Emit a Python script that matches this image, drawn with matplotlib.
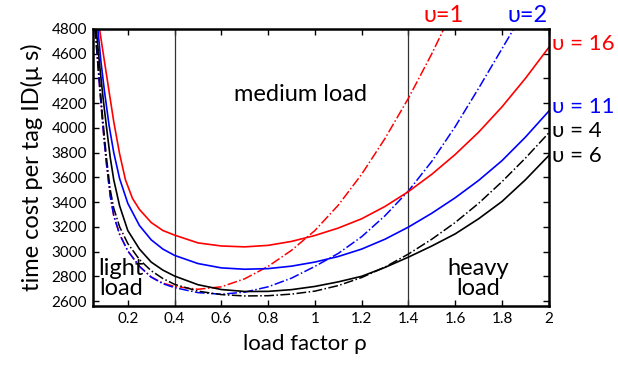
import matplotlib
matplotlib.use('Agg')
import matplotlib.pyplot as plt

plt.rcParams['font.family'] = ['Lato', 'DejaVu Sans']

# load factor samples and time cost per tag (us)
rho_u16 = [0.079, 0.1, 0.122, 0.14, 0.165, 0.19, 0.22, 0.25, 0.3, 0.35, 0.4, 0.5, 0.6, 0.7, 0.8, 0.9, 1.0,
           1.1, 1.2, 1.3, 1.4, 1.5, 1.6, 1.7, 1.8, 1.9, 2.0]
cost_u16 = [4800, 4540, 4270, 4050, 3790, 3580, 3430, 3340, 3235, 3170, 3133, 3070, 3045, 3038, 3050, 3082, 3130,
            3190, 3265, 3365, 3485, 3625, 3785, 3965, 4170, 4400, 4650]

rho_u11 = [0.072, 0.085, 0.1, 0.12, 0.14, 0.165, 0.2, 0.25, 0.3, 0.35, 0.4, 0.5, 0.6, 0.7, 0.8, 0.9, 1.0,
           1.1, 1.2, 1.3, 1.4, 1.5, 1.6, 1.7, 1.8, 1.9, 2.0]
cost_u11 = [4800, 4540, 4300, 4020, 3800, 3590, 3390, 3210, 3095, 3020, 2969, 2903, 2868, 2857, 2862, 2882, 2915,
            2960, 3020, 3100, 3198, 3310, 3435, 3575, 3735, 3925, 4135]

rho_u6 = [0.065, 0.08, 0.096, 0.11, 0.125, 0.14, 0.165, 0.2, 0.25, 0.3, 0.35, 0.4, 0.5, 0.6, 0.7, 0.8, 0.9,
          1.0, 1.1, 1.2, 1.3, 1.4, 1.5, 1.6, 1.7, 1.8, 1.9, 2.0]
cost_u6 = [4800, 4500, 4214, 3990, 3760, 3580, 3370, 3170, 3020, 2915, 2850, 2802, 2732, 2693, 2677, 2678, 2692,
           2718, 2755, 2800, 2872, 2955, 3045, 3143, 3265, 3405, 3580, 3776]

rho_u4 = [0.062, 0.07, 0.08, 0.09, 0.1, 0.11, 0.125, 0.14, 0.165, 0.2, 0.25, 0.3, 0.35, 0.4, 0.5, 0.6, 0.7,
          0.8, 0.9, 1.0, 1.1, 1.2, 1.3, 1.4, 1.5, 1.6, 1.7, 1.8, 1.9, 2.0]
cost_u4 = [4800, 4590, 4370, 4140, 3930, 3740, 3500, 3350, 3200, 3065, 2935, 2845, 2782, 2735, 2680, 2652, 2641,
           2643, 2656, 2680, 2725, 2790, 2875, 2980, 3100, 3235, 3390, 3565, 3755, 3959]

rho_u1 = [0.06, 0.07, 0.08, 0.09, 0.1, 0.11, 0.125, 0.14, 0.165, 0.2, 0.25, 0.3, 0.35, 0.4, 0.5, 0.6, 0.7,
          0.8, 0.9, 1.0, 1.1, 1.2, 1.3, 1.4, 1.5, 1.551]
cost_u1 = [4800, 4560, 4320, 4090, 3880, 3690, 3450, 3290, 3140, 3005, 2880, 2795, 2745, 2718, 2695, 2715, 2780,
           2880, 3010, 3170, 3375, 3625, 3915, 4240, 4600, 4800]

rho_u2 = [0.06, 0.07, 0.08, 0.09, 0.1, 0.11, 0.125, 0.14, 0.165, 0.2, 0.25, 0.3, 0.35, 0.4, 0.5, 0.6, 0.7,
          0.8, 0.9, 1.0, 1.1, 1.2, 1.3, 1.4, 1.5, 1.6, 1.7, 1.8, 1.85]
cost_u2 = [4800, 4560, 4320, 4090, 3880, 3690, 3450, 3290, 3140, 3005, 2880, 2793, 2740, 2708, 2668, 2655, 2672,
           2715, 2785, 2880, 2985, 3120, 3290, 3490, 3730, 4010, 4320, 4640, 4800]

x_ticks = [0.2, 0.4, 0.6, 0.8, 1, 1.2, 1.4, 1.6, 1.8, 2]
x_tick_labels = ['0.2', '0.4', '0.6', '0.8', '1', '1.2', '1.4', '1.6', '1.8', '2']
y_ticks = list(range(2600, 4801, 200))
region_bounds = [0.4, 1.4]


def create_plot():
    fig = plt.figure(figsize=(6.18, 3.66), dpi=100)
    ax = fig.add_axes([0.150, 0.164, 0.738, 0.757])

    for b in region_bounds:
        ax.axvline(b, color='#333333', lw=0.9)

    ax.plot(rho_u1, cost_u1, color='red', ls='-.', lw=1.1)
    ax.plot(rho_u2, cost_u2, color='blue', ls='-.', lw=1.1)
    ax.plot(rho_u4, cost_u4, color='black', ls='-.', lw=1.1)
    ax.plot(rho_u16, cost_u16, color='red', lw=1.2)
    ax.plot(rho_u11, cost_u11, color='blue', lw=1.2)
    ax.plot(rho_u6, cost_u6, color='black', lw=1.2)

    ax.set_xlim(0.05, 2)
    ax.set_ylim(2560, 4800)
    ax.set_xticks(x_ticks)
    ax.set_xticklabels(x_tick_labels)
    ax.set_yticks(y_ticks)
    ax.tick_params(direction='in', top=True, right=True, labelsize=11, length=4, width=1, pad=4)
    for s in ax.spines.values():
        s.set_linewidth(1.8)

    ax.set_xlabel('load factor ρ', fontsize=16, va='top')
    ax.xaxis.set_label_coords(0.465, -0.1)
    ax.set_ylabel('time cost per tag ID(μ s)', fontsize=17, labelpad=6)

    ax.text(0.17, 2785, 'light\nload', fontsize=17, ha='center', va='center', linespacing=0.95)
    ax.text(0.94, 4270, 'medium load', fontsize=17, ha='center', va='center')
    ax.text(1.7, 2785, 'heavy\nload', fontsize=17, ha='center', va='center', linespacing=0.95)

    ax.text(1.55, 4912, 'υ=1', color='red', fontsize=17, ha='center', va='center', clip_on=False)
    ax.text(1.91, 4912, 'υ=2', color='blue', fontsize=17, ha='center', va='center', clip_on=False)
    ax.text(2.015, 4675, 'υ = 16', color='red', fontsize=16, ha='left', va='center', clip_on=False)
    ax.text(2.015, 4170, 'υ = 11', color='blue', fontsize=16, ha='left', va='center', clip_on=False)
    ax.text(2.015, 3975, 'υ = 4', color='black', fontsize=16, ha='left', va='center', clip_on=False)
    ax.text(2.015, 3775, 'υ = 6', color='black', fontsize=16, ha='left', va='center', clip_on=False)

    fig.savefig('out.png', dpi=100)


if __name__ == '__main__':
    create_plot()
